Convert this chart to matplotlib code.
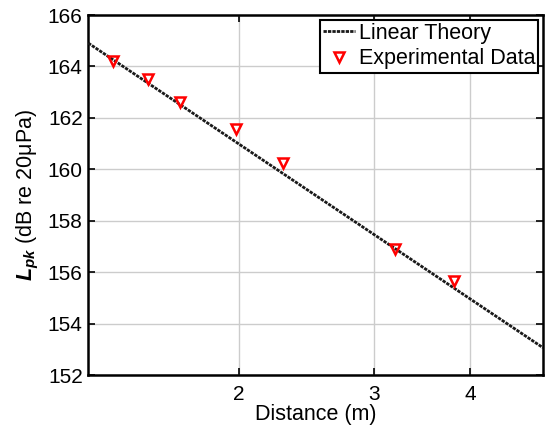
import matplotlib
matplotlib.use("Agg")
import matplotlib.pyplot as plt
from matplotlib.ticker import FixedLocator, FixedFormatter, NullLocator

plt.rcParams['font.family'] = ['Liberation Sans', 'DejaVu Sans']
plt.rcParams['mathtext.fontset'] = 'custom'
plt.rcParams['mathtext.rm'] = 'Liberation Sans'
plt.rcParams['mathtext.it'] = 'Liberation Sans:italic:bold'
plt.rcParams['mathtext.bf'] = 'Liberation Sans:bold'

# Data
theory_r = [1.272, 4.98]
theory_L = [164.91, 153.06]
exp_r = [1.371, 1.523, 1.676, 1.982, 2.285, 3.198, 3.811]
exp_L = [164.22, 163.52, 162.60, 161.55, 160.23, 156.91, 155.64]
xticks = [2, 3, 4]
xticklabels = ['2', '3', '4']
yticks = [152, 154, 156, 158, 160, 162, 164, 166]

fig = plt.figure(figsize=(5.48, 4.26), dpi=100)
ax = fig.add_axes([0.161, 0.1197, 0.830, 0.845])

ax.plot(theory_r, theory_L, color='#1a1a1a', lw=2.0, ls=(0, (1.2, 0.4)), label='Linear Theory', zorder=3)
ax.plot(exp_r, exp_L, ls='none', marker='v', ms=6.5, mfc='none', mec='#ff0000', mew=1.8,
        label='Experimental Data', zorder=4)

ax.set_xscale('log')
ax.set_xlim(1.272, 4.98)
ax.set_ylim(152, 166)
ax.xaxis.set_major_locator(FixedLocator(xticks))
ax.xaxis.set_major_formatter(FixedFormatter(xticklabels))
ax.xaxis.set_minor_locator(NullLocator())
ax.set_yticks(yticks)

ax.grid(True, color='#cccccc', lw=1.0, zorder=0)
ax.set_axisbelow(True)
ax.tick_params(direction='in', top=True, right=True, length=5, width=1.2, labelsize=15, colors='black', pad=4)
ax.tick_params(axis='x', pad=7)
for s in ax.spines.values():
    s.set_linewidth(1.8)
    s.set_color('black')

ax.set_xlabel('Distance (m)', fontsize=15.5, labelpad=0)
ax.set_ylabel(r'$L_{pk}$ (dB re 20μPa)', fontsize=15.5, labelpad=5)

leg = ax.legend(loc='upper right', fontsize=15.5, frameon=True, fancybox=False,
                edgecolor='black', framealpha=1, borderpad=0.15, labelspacing=0.2,
                handlelength=1.5, handletextpad=0.15, borderaxespad=0.22)
leg.get_frame().set_linewidth(1.5)

fig.savefig('out.png', dpi=100)
